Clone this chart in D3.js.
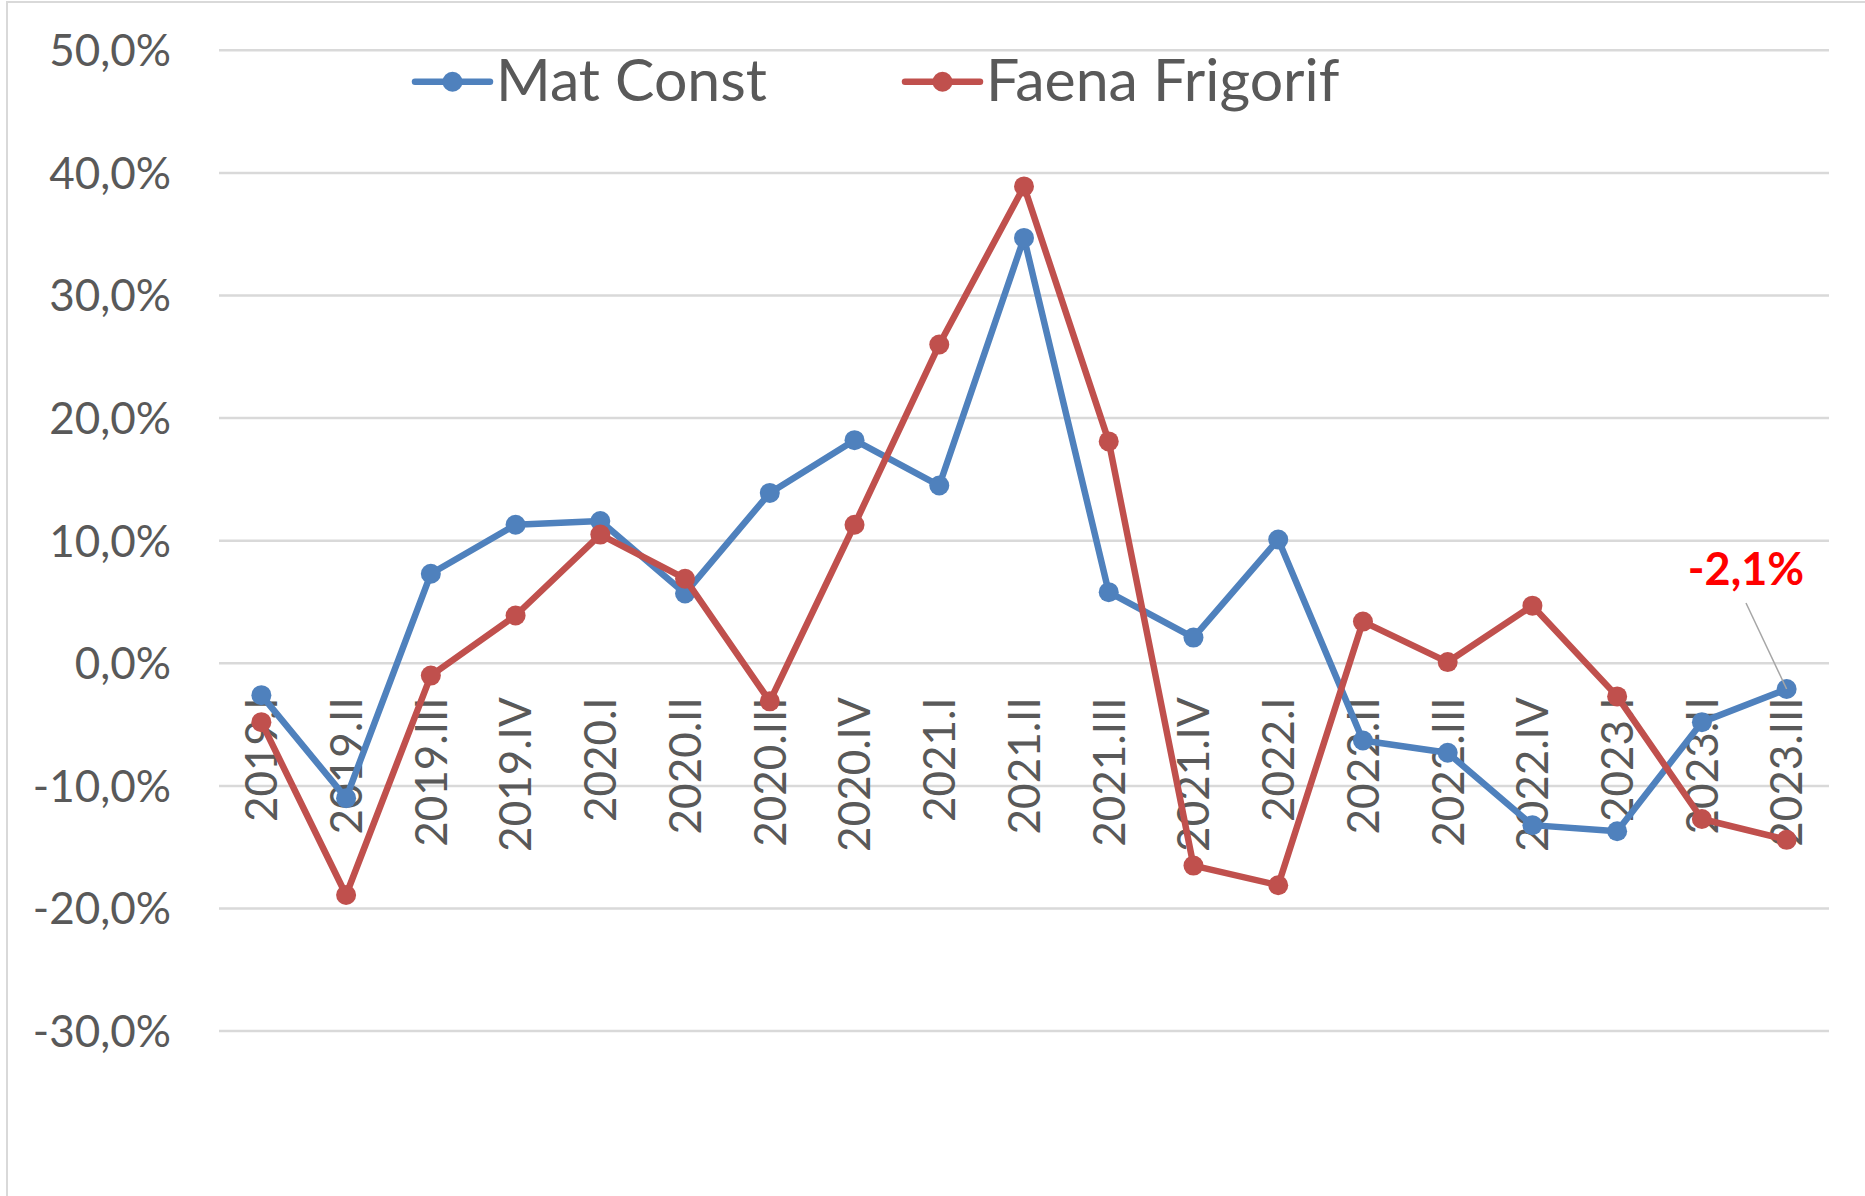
<!DOCTYPE html>
<html>
<head>
<meta charset="utf-8">
<script src="https://cdn.jsdelivr.net/npm/d3@7"></script>
<style>
  body { margin: 0; background: #fff; }
  svg { display: block; font-family: Lato, "Open Sans", sans-serif; }
</style>
</head>
<body>
<svg id="chart"></svg>
<script>
const categories = ["2019.I", "2019.II", "2019.III", "2019.IV", "2020.I", "2020.II", "2020.III", "2020.IV",
  "2021.I", "2021.II", "2021.III", "2021.IV", "2022.I", "2022.II", "2022.III", "2022.IV",
  "2023.I", "2023.II", "2023.III"];

const matConst = [-2.6, -11.0, 7.3, 11.3, 11.6, 5.7, 13.9, 18.2, 14.5, 34.7, 5.8, 2.1, 10.1, -6.3, -7.3, -13.2, -13.7, -4.8, -2.1];
const faenaFrigorif = [-4.8, -18.9, -1.0, 3.9, 10.5, 6.9, -3.1, 11.3, 26.0, 38.9, 18.1, -16.5, -18.1, 3.4, 0.1, 4.7, -2.7, -12.7, -14.4];

const yTicks = [-30, -20, -10, 0, 10, 20, 30, 40, 50];

const series = [
  { name: "Mat Const", values: matConst, color: "#4f81bd" },
  { name: "Faena Frigorif", values: faenaFrigorif, color: "#c0504d" }
];

const width = 1865, height = 1196;
const plot = { left: 219, right: 1829, top: 50.3, bottom: 1031.1 };

const svg = d3.select("#chart")
  .attr("width", width)
  .attr("height", height);

// chart area border (only left/top visible in the crop)
svg.append("rect")
  .attr("x", 7).attr("y", 2)
  .attr("width", width + 20).attr("height", height + 20)
  .attr("fill", "none")
  .attr("stroke", "#d9d9d9")
  .attr("stroke-width", 2);

const x = d3.scaleBand().domain(categories).range([plot.left, plot.right]);
const y = d3.scaleLinear().domain([-30, 50]).range([plot.bottom, plot.top]);
const cx = d => x(d) + x.bandwidth() / 2;

// gridlines
svg.append("g")
  .selectAll("line")
  .data(yTicks)
  .join("line")
  .attr("x1", plot.left)
  .attr("x2", plot.right)
  .attr("y1", d => y(d))
  .attr("y2", d => y(d))
  .attr("stroke", "#d9d9d9")
  .attr("stroke-width", 2.5);

// y labels
const fmt = v => d3.format(".1f")(v).replace(".", ",").replace("−", "-") + "%";
svg.append("g")
  .selectAll("text")
  .data(yTicks)
  .join("text")
  .attr("x", 171)
  .attr("y", d => y(d))
  .attr("dy", "0.36em")
  .attr("text-anchor", "end")
  .attr("font-size", 44)
  .attr("fill", "#595959")
  .text(fmt);

// category labels, rotated, next to zero line
svg.append("g")
  .selectAll("text")
  .data(categories)
  .join("text")
  .attr("transform", d => `translate(${cx(d)},${y(0) + 34}) rotate(-90)`)
  .attr("dy", "0.36em")
  .attr("text-anchor", "end")
  .attr("font-size", 44)
  .attr("fill", "#595959")
  .text(d => d);

// lines + markers
const line = d3.line()
  .x((d, i) => cx(categories[i]))
  .y(d => y(d));

series.forEach(s => {
  const g = svg.append("g");
  g.append("path")
    .datum(s.values)
    .attr("d", line)
    .attr("fill", "none")
    .attr("stroke", s.color)
    .attr("stroke-width", 6.5)
    .attr("stroke-linejoin", "round")
    .attr("stroke-linecap", "round");
  g.selectAll("circle")
    .data(s.values)
    .join("circle")
    .attr("cx", (d, i) => cx(categories[i]))
    .attr("cy", d => y(d))
    .attr("r", 10)
    .attr("fill", s.color);
});

// legend
const legendItems = [
  { s: series[0], x0: 415 },
  { s: series[1], x0: 905 }
];
legendItems.forEach(({ s, x0 }) => {
  const g = svg.append("g");
  g.append("line")
    .attr("x1", x0).attr("x2", x0 + 75)
    .attr("y1", 81.7).attr("y2", 81.7)
    .attr("stroke", s.color)
    .attr("stroke-width", 6.5)
    .attr("stroke-linecap", "round");
  g.append("circle")
    .attr("cx", x0 + 37.5).attr("cy", 81.7).attr("r", 10)
    .attr("fill", s.color);
  g.append("text")
    .attr("x", x0 + 81)
    .attr("y", 101)
    .attr("font-size", 59)
    .attr("fill", "#595959")
    .text(s.name);
});

// data label for last Mat Const point
const lastIdx = categories.length - 1;
const px = cx(categories[lastIdx]), py = y(matConst[lastIdx]);
svg.append("line")
  .attr("x1", 1746).attr("y1", 603)
  .attr("x2", px).attr("y2", py)
  .attr("stroke", "#a6a6a6")
  .attr("stroke-width", 1.5);
svg.append("text")
  .attr("x", 1746)
  .attr("y", 585)
  .attr("text-anchor", "middle")
  .attr("font-size", 45)
  .attr("font-weight", "bold")
  .attr("fill", "#ff0000")
  .text(fmt(matConst[lastIdx]));
</script>
</body>
</html>
